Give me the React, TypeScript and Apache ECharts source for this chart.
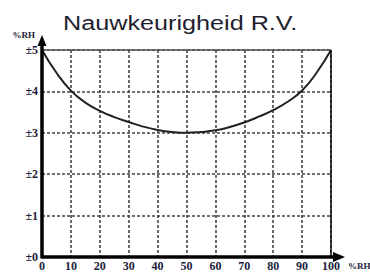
import React, { useEffect, useRef } from "react";
import * as echarts from "echarts";

const titleText = "Nauwkeurigheid R.V.";
const unitLabel = "%RH";
const rhPoints = [0, 5, 10, 15, 20, 25, 30, 35, 40, 45, 50, 55, 60, 65, 70, 75, 80, 85, 90, 95, 100];
const accuracy = [5, 4.45, 4.02, 3.73, 3.53, 3.38, 3.26, 3.15, 3.07, 3.02, 3.0, 3.02, 3.06, 3.14, 3.25, 3.39, 3.55, 3.75, 4.02, 4.45, 5];
const yTicks = [0, 1, 2, 3, 4, 5];

export default function App() {
  const ref = useRef<HTMLDivElement>(null);
  useEffect(() => {
    const chart = echarts.init(ref.current!, null, { renderer: "svg" });
    const labelFont = { fontFamily: "Liberation Serif", fontWeight: "bold" as const, fontSize: 12, color: "#1c1c3a" };
    chart.setOption({
      animation: false,
      grid: { left: 42, right: 39, top: 50, bottom: 16 },
      xAxis: {
        type: "value", min: 0, max: 100, interval: 10,
        axisLine: { show: false }, axisTick: { show: false },
        axisLabel: { ...labelFont, margin: 3 },
        splitLine: { show: true, lineStyle: { color: "#444", width: 1.6, type: [3, 2] } },
      },
      yAxis: {
        type: "value", min: 0, max: 5, interval: 1,
        axisLine: { show: false }, axisTick: { show: false },
        axisLabel: { ...labelFont, margin: 4, formatter: (v: number) => (yTicks.includes(v) ? "±" + v : "") },
        splitLine: { show: true, lineStyle: { color: "#444", width: 1.6, type: [3, 2] } },
      },
      series: [{
        type: "line", smooth: 0.5, symbol: "none",
        data: rhPoints.map((x, i) => [x, accuracy[i]]),
        lineStyle: { color: "#222", width: 2 },
        z: 5,
      }],
    });
    const [x0, y0] = chart.convertToPixel({ gridIndex: 0 }, [0, 0]) as number[];
    const [x1, y1] = chart.convertToPixel({ gridIndex: 0 }, [100, 5]) as number[];
    chart.setOption({
      graphic: [
        { type: "line", z: 10, shape: { x1: x0, y1: y1, x2: x1, y2: y1 }, style: { stroke: "#555", lineWidth: 1.6 } },
        { type: "line", z: 10, shape: { x1: x1, y1: y1, x2: x1, y2: y0 }, style: { stroke: "#111", lineWidth: 1.6 } },
        { type: "line", z: 11, shape: { x1: x0, y1: y0, x2: x1 + 6, y2: y0 }, style: { stroke: "#000", lineWidth: 3.5 } },
        { type: "line", z: 11, shape: { x1: x0, y1: y0 + 1.5, x2: x0, y2: y1 - 8 }, style: { stroke: "#000", lineWidth: 3.5 } },
        { type: "polygon", z: 12, shape: { points: [[x1 + 2, y0 - 5], [x1 + 14, y0], [x1 + 2, y0 + 5]] }, style: { fill: "#000" } },
        { type: "polygon", z: 12, shape: { points: [[x0 - 4.5, y1 - 4], [x0, y1 - 15], [x0 + 4.5, y1 - 4]] }, style: { fill: "#000" } },
        { type: "text", z: 12, style: { text: unitLabel, x: 35, y: y1 - 15, align: "right", verticalAlign: "middle", font: "bold 9px 'Liberation Serif'", fill: "#1c1c3a" } },
        { type: "text", z: 12, style: { text: unitLabel, x: x1 + 17, y: y0 + 9, align: "left", verticalAlign: "middle", font: "bold 9px 'Liberation Serif'", fill: "#1c1c3a" } },
        { type: "text", z: 12, x: 63, y: 22.5, scaleX: 1.2, style: { text: titleText, x: 0, y: 0, align: "left", verticalAlign: "middle", font: "21px 'Liberation Sans'", fill: "#1e1e30" } },
      ],
    });
    return () => chart.dispose();
  }, []);
  return <div ref={ref} style={{ width: 370, height: 273, position: "absolute", left: 0, top: 0 }} />;
}
